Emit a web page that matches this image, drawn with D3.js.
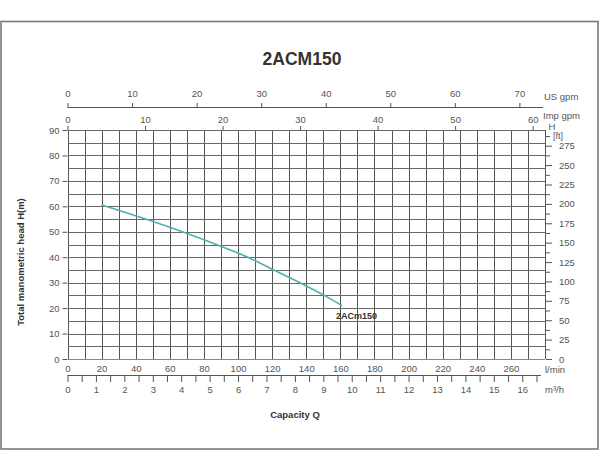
<!DOCTYPE html>
<html><head><meta charset="utf-8">
<script src="https://cdn.jsdelivr.net/npm/d3@7/dist/d3.min.js"></script>
<style>
html,body{margin:0;padding:0;background:#fff;}
svg{display:block;font-family:"Liberation Sans",Arial,sans-serif;}
.ax text{fill:#555;font-size:9.5px;}
.ax line,.ax path{stroke:#555;}
</style></head>
<body><svg id="c" width="600" height="472"></svg>
<script>
// ---- data ----
const title = "2ACM150";
const seriesName = "2ACm150";
const flowLpm = [20, 44.5, 69, 89.5, 107, 120, 138, 150, 161];   // l/min
const headM   = [60.5, 55.3, 49.6, 44.4, 39.6, 35.3, 29.4, 25.2, 21]; // m
const lpmTicks = [0,20,40,60,80,100,120,140,160,180,200,220,240,260];
const m3hTicks = d3.range(0, 16.51, 0.5);
const usTicks = [0,10,20,30,40,50,60,70];
const impTicks = [0,10,20,30,40,50,60];
const mTicks = [0,10,20,30,40,50,60,70,80,90];
const ftTicks = d3.range(0, 287.6, 12.5);

const svg = d3.select("#c");
const L = 67.5, R = 545, T = 130, B = 359;
const x = d3.scaleLinear([0, 280], [L, R]);
const y = d3.scaleLinear([0, 90], [B, T]);
const xUS = d3.scaleLinear([0, 280/3.78541], [L, R]);
const xImp = d3.scaleLinear([0, 280/4.54609], [L, R]);
const xM3 = d3.scaleLinear([0, 280*0.06], [L, R]);
const yFt = d3.scaleLinear([0, 90*3.28084], [B, T]);

// frame
svg.append("rect").attr("x",1).attr("y",21.5).attr("width",597).attr("height",427.5)
  .attr("fill","none").attr("stroke","#7a7a7a").attr("stroke-width",1.6);

// title
svg.append("text").attr("x",302).attr("y",64.5).attr("text-anchor","middle")
  .attr("font-size",17.5).attr("font-weight","bold").attr("fill","#333").text(title);

// grid
const g = svg.append("g").attr("shape-rendering","crispEdges");
g.selectAll("line.v").data(d3.range(0, 281, 10)).join("line")
  .attr("x1",d=>Math.round(x(d))+0.5).attr("x2",d=>Math.round(x(d))+0.5)
  .attr("y1",T).attr("y2",B).attr("stroke","#555").attr("stroke-width",1);
g.selectAll("line.h").data(d3.range(0, 91, 5)).join("line")
  .attr("y1",d=>Math.round(y(d))+0.5).attr("y2",d=>Math.round(y(d))+0.5)
  .attr("x1",L).attr("x2",R).attr("stroke","#666").attr("stroke-width",1);
g.append("line").attr("x1",L).attr("x2",R).attr("y1",B+0.5).attr("y2",B+0.5)
  .attr("stroke","#888").attr("stroke-width",1.5);

// left axis
const aL = svg.append("g").attr("class","ax").attr("transform",`translate(${L},0)`)
  .call(d3.axisLeft(y).tickValues(mTicks).tickSize(5).tickPadding(3));
aL.select(".domain").remove();
aL.selectAll("text").attr("font-size",10.5);

// right ft axis
const aR = svg.append("g").attr("class","ax").attr("transform",`translate(${R+1},0)`)
  .call(d3.axisRight(yFt).tickValues(ftTicks).tickSize(6).tickPadding(7)
    .tickFormat(d => d % 25 === 0 ? d : ""));
aR.select(".domain").remove();
aR.selectAll(".tick line").attr("x2", d => d % 25 === 0 ? 6 : 4);
svg.append("text").attr("class","lbl").attr("x",552).attr("y",130).attr("text-anchor","middle")
  .attr("font-size",9.5).attr("fill","#555").text("H");
svg.append("text").attr("x",553).attr("y",139).attr("font-size",9).attr("fill","#555").text("[ft]");

// top US gpm axis
const aUS = svg.append("g").attr("class","ax").attr("transform","translate(0,107)")
  .call(d3.axisTop(xUS).tickValues(usTicks).tickSize(4).tickSizeOuter(0).tickPadding(6));
aUS.select(".domain").attr("d", `M${L},0.5H${R-2}`);
svg.append("text").attr("x",544).attr("y",100).attr("font-size",9.5).attr("fill","#555").text("US gpm");

// top Imp gpm axis
const aImp = svg.append("g").attr("class","ax").attr("transform",`translate(0,${T})`)
  .call(d3.axisTop(xImp).tickValues(impTicks).tickSize(4).tickPadding(3));
aImp.select(".domain").remove();
svg.append("text").attr("x",543).attr("y",119).attr("font-size",9.5).attr("fill","#555").text("Imp gpm");

// bottom l/min axis
const aB = svg.append("g").attr("class","ax").attr("transform",`translate(0,${B})`)
  .call(d3.axisBottom(x).tickValues(lpmTicks).tickSize(0).tickPadding(6));
aB.select(".domain").remove();
svg.append("text").attr("x",545).attr("y",373).attr("font-size",9.5).attr("fill","#555").text("l/min");

// bottom m3/h axis
const aM = svg.append("g").attr("class","ax").attr("transform","translate(0,375)")
  .call(d3.axisBottom(xM3).tickValues(m3hTicks).tickSize(7).tickSizeOuter(0).tickPadding(4)
    .tickFormat(d => Number.isInteger(d) ? d : ""));
aM.select(".domain").attr("d", `M${L},0.5H${R-4}`);
svg.append("text").attr("x",545).attr("y",393).attr("font-size",9.5).attr("fill","#555").text("m³/h");

// axis titles
svg.append("text").attr("x",295).attr("y",418).attr("text-anchor","middle")
  .attr("font-size",9.5).attr("font-weight","bold").attr("fill","#333").text("Capacity Q");
svg.append("text").attr("transform","translate(24,262) rotate(-90)").attr("text-anchor","middle")
  .attr("font-size",9.5).attr("font-weight","bold").attr("fill","#333").text("Total manometric head H(m)");

// curve
const pts = flowLpm.map((q,i)=>[q, headM[i]]);
svg.append("path").datum(pts)
  .attr("d", d3.line().x(d=>x(d[0])).y(d=>y(d[1])).curve(d3.curveMonotoneX))
  .attr("fill","none").attr("stroke","#4fb0ab").attr("stroke-width",1.6);
const last = pts[pts.length-1];
svg.append("text").attr("x",x(last[0])-6).attr("y",y(last[1])+13)
  .attr("font-size",9).attr("font-weight","bold").attr("fill","#333").text(seriesName);
</script></body></html>
